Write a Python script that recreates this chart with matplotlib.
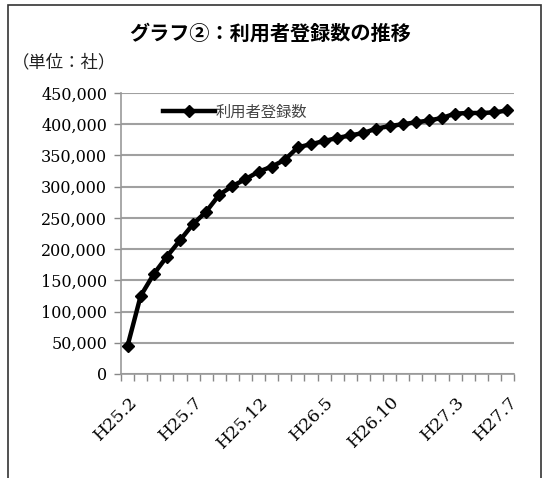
import matplotlib
matplotlib.use('Agg')
import matplotlib.pyplot as plt
from matplotlib.patches import Rectangle
import numpy as np

plt.rcParams['font.family'] = ['Noto Sans CJK JP', 'DejaVu Sans']

# monthly categories H25.2 .. H27.7
months = ['H25.2', 'H25.3', 'H25.4', 'H25.5', 'H25.6', 'H25.7', 'H25.8', 'H25.9',
          'H25.10', 'H25.11', 'H25.12', 'H26.1', 'H26.2', 'H26.3', 'H26.4', 'H26.5',
          'H26.6', 'H26.7', 'H26.8', 'H26.9', 'H26.10', 'H26.11', 'H26.12', 'H27.1',
          'H27.2', 'H27.3', 'H27.4', 'H27.5', 'H27.6', 'H27.7']
users = [45000, 125000, 160000, 188000, 214000, 240000, 260000, 287000,
         301000, 312000, 324000, 332000, 343000, 363000, 368000, 373000,
         378000, 382000, 386000, 393000, 397000, 400000, 403000, 406000,
         410000, 417000, 418000, 418000, 419000, 422000]
shown = ['H25.2', 'H25.7', 'H25.12', 'H26.5', 'H26.10', 'H27.3', 'H27.7']
series_name = '利用者登録数'

W, H = 548, 478
fig = plt.figure(figsize=(W / 100, H / 100), dpi=100)

# outer frame
fig.add_artist(Rectangle((8 / W, -0.01), 533 / W, 1.0 - 5 / H + 0.01,
                         transform=fig.transFigure, fill=False,
                         edgecolor='#333333', linewidth=1.2))

fig.text(270 / W, 1 - 33 / H, 'グラフ②：利用者登録数の推移', ha='center', va='center',
         fontsize=14.5, fontweight='bold')
fig.text(12 / W, 1 - 62 / H, '（単位：社）', ha='left', va='center', fontsize=12.5,
         color='#222222')

ax = fig.add_axes([121 / W, 104 / H, 393 / W, 281 / H])
x = np.arange(len(months))
ax.plot(x, users, color='black', linewidth=3.2, marker='D', markersize=6.5,
        label=series_name)

ax.set_xlim(-0.5, len(months) - 0.5)
ax.set_ylim(0, 450000)
ax.set_yticks(np.arange(0, 450001, 50000))
ax.set_yticklabels([f'{v:,}' for v in range(0, 450001, 50000)],
                   family=['DejaVu Serif'], fontsize=11.5)

# category boundaries get the tick marks
ax.set_xticks(np.arange(-0.5, len(months)))
ax.set_xticklabels([])
ax.tick_params(axis='x', length=5, color='#888888', width=1)
ax.tick_params(axis='y', length=5, color='#888888', width=1, pad=5)

for lab in shown:
    i = months.index(lab)
    ax.text(i + 0.1, -31000, lab, rotation=45, ha='right', va='top',
            family=['DejaVu Serif'], fontsize=12.5, rotation_mode='anchor')

ax.grid(axis='y', color='#a0a0a0', linewidth=1.5)
ax.set_axisbelow(True)
for s in ['top', 'right']:
    ax.spines[s].set_visible(False)
for s in ['left', 'bottom']:
    ax.spines[s].set_color('#999999')
    ax.spines[s].set_linewidth(1.2)

leg = ax.legend(loc='upper left', bbox_to_anchor=(0.08, 1.0), frameon=False,
                fontsize=11, handlelength=3.4, handletextpad=0.05,
                borderaxespad=0.3)
for t in leg.get_texts():
    t.set_color('#444444')

fig.savefig('out.png', dpi=100)
